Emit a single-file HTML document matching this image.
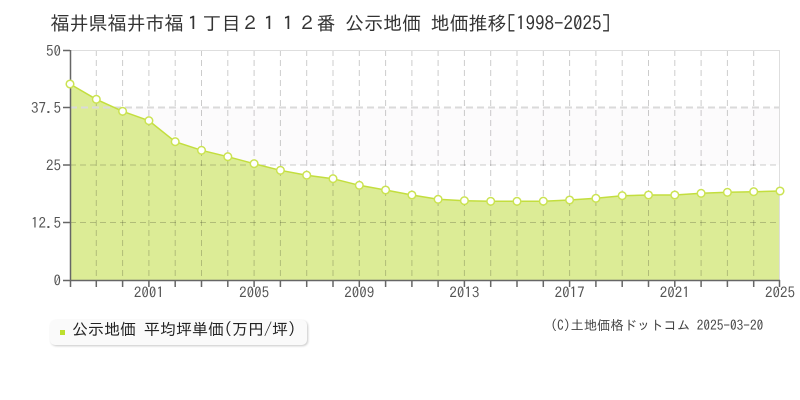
<!DOCTYPE html>
<html><head><meta charset="utf-8"><style>
html,body{margin:0;padding:0;background:#fff;}
body{width:800px;height:400px;position:relative;overflow:hidden;font-family:"IPAGothic","Liberation Sans","Noto Sans CJK JP",sans-serif;}
.t{position:absolute;white-space:nowrap;}
</style></head><body>
<svg width="800" height="400" style="position:absolute;left:0;top:0" xmlns="http://www.w3.org/2000/svg">
<rect x="70" y="107.5" width="710" height="57.5" fill="#fcfbfc"/>
<polygon fill="#dcec96" points="70,280 70,84 96.3,99.3 122.6,111.3 148.9,120.7 175.2,141.7 201.5,150.3 227.8,156.7 254.1,163.7 280.4,170.3 306.7,175.2 333,178.7 359.3,185.3 385.6,190 411.9,195 438.1,199.3 464.4,200.7 490.7,201.3 517,201.3 543.3,201.2 569.6,200 595.9,198.3 622.2,195.7 648.5,195 674.8,195 701.1,193.3 727.4,192.3 753.7,191.7 780,191 780,280"/>
<g stroke="rgba(0,0,0,0.2)" stroke-width="1" stroke-dasharray="6,4" fill="none">
<path d="M96.3,50V280M122.6,50V280M148.9,50V280M175.2,50V280M201.5,50V280M227.8,50V280M254.1,50V280M280.4,50V280M306.7,50V280M333,50V280M359.3,50V280M385.6,50V280M411.9,50V280M438.1,50V280M464.4,50V280M490.7,50V280M517,50V280M543.3,50V280M569.6,50V280M595.9,50V280M622.2,50V280M648.5,50V280M674.8,50V280M701.1,50V280M727.4,50V280M753.7,50V280"/>
<path d="M70,165H780M70,222.5H780"/>
</g>
<path d="M70,107.5H780" stroke="#dadada" stroke-width="2" stroke-dasharray="7,4" fill="none"/>
<path d="M70,50.5H780M779.5,50V280" stroke="#dedede" stroke-width="1" fill="none"/>
<polyline fill="none" stroke="#c3de3e" stroke-width="1.5" points="70,84 96.3,99.3 122.6,111.3 148.9,120.7 175.2,141.7 201.5,150.3 227.8,156.7 254.1,163.7 280.4,170.3 306.7,175.2 333,178.7 359.3,185.3 385.6,190 411.9,195 438.1,199.3 464.4,200.7 490.7,201.3 517,201.3 543.3,201.2 569.6,200 595.9,198.3 622.2,195.7 648.5,195 674.8,195 701.1,193.3 727.4,192.3 753.7,191.7 780,191"/>
<g stroke="#666" stroke-width="1.5" fill="none">
<path d="M70.5,50V280.5H780"/>
<path d="M63,50.5H70M63,107.5H70M63,165H70M63,222.5H70M63,280.5H70"/>
<path d="M70.5,280V287M96.3,280V287M122.6,280V287M148.9,280V287M175.2,280V287M201.5,280V287M227.8,280V287M254.1,280V287M280.4,280V287M306.7,280V287M333,280V287M359.3,280V287M385.6,280V287M411.9,280V287M438.1,280V287M464.4,280V287M490.7,280V287M517,280V287M543.3,280V287M569.6,280V287M595.9,280V287M622.2,280V287M648.5,280V287M674.8,280V287M701.1,280V287M727.4,280V287M753.7,280V287M779.5,280V287"/>
</g>
<g fill="#fff" stroke="#cbe352" stroke-width="1.5">
<circle cx="70" cy="84" r="3.8"/><circle cx="96.3" cy="99.3" r="3.8"/><circle cx="122.6" cy="111.3" r="3.8"/><circle cx="148.9" cy="120.7" r="3.8"/><circle cx="175.2" cy="141.7" r="3.8"/><circle cx="201.5" cy="150.3" r="3.8"/><circle cx="227.8" cy="156.7" r="3.8"/><circle cx="254.1" cy="163.7" r="3.8"/><circle cx="280.4" cy="170.3" r="3.8"/><circle cx="306.7" cy="175.2" r="3.8"/><circle cx="333" cy="178.7" r="3.8"/><circle cx="359.3" cy="185.3" r="3.8"/><circle cx="385.6" cy="190" r="3.8"/><circle cx="411.9" cy="195" r="3.8"/><circle cx="438.1" cy="199.3" r="3.8"/><circle cx="464.4" cy="200.7" r="3.8"/><circle cx="490.7" cy="201.3" r="3.8"/><circle cx="517" cy="201.3" r="3.8"/><circle cx="543.3" cy="201.2" r="3.8"/><circle cx="569.6" cy="200" r="3.8"/><circle cx="595.9" cy="198.3" r="3.8"/><circle cx="622.2" cy="195.7" r="3.8"/><circle cx="648.5" cy="195" r="3.8"/><circle cx="674.8" cy="195" r="3.8"/><circle cx="701.1" cy="193.3" r="3.8"/><circle cx="727.4" cy="192.3" r="3.8"/><circle cx="753.7" cy="191.7" r="3.8"/><circle cx="780" cy="191" r="3.8"/>
</g>
<g font-family="IPAGothic, 'Liberation Sans', sans-serif" font-size="15" fill="#555" text-anchor="end">
<text x="61" y="56">50</text>
<text x="61" y="113">37.5</text>
<text x="61" y="170.5">25</text>
<text x="61" y="228">12.5</text>
<text x="61" y="285.5">0</text>
</g>
<g font-family="IPAGothic, 'Liberation Sans', sans-serif" font-size="15" fill="#555" text-anchor="middle">
<text x="148.9" y="297.5">2001</text>
<text x="254.1" y="297.5">2005</text>
<text x="359.3" y="297.5">2009</text>
<text x="464.4" y="297.5">2013</text>
<text x="569.6" y="297.5">2017</text>
<text x="674.8" y="297.5">2021</text>
<text x="780" y="297.5">2025</text>
</g>
</svg>
<div class="t" style="left:50.5px;top:14px;font-size:19px;line-height:19px;color:#333;">福井県福井市福１丁目２１１２番 公示地価 地価推移[1998-2025]</div>
<div style="position:absolute;left:50px;top:320px;width:257px;height:25px;background:#fafafa;border-radius:5px;box-shadow:1px 1px 2px rgba(0,0,0,0.22);"></div>
<div style="position:absolute;left:60px;top:329.5px;width:5px;height:5px;background:#bddf2e;"></div>
<div class="t" style="left:72px;top:321px;font-size:16px;line-height:16px;color:#222;">公示地価 平均坪単価(万円/坪)</div>
<div class="t" style="left:550.5px;top:318.5px;font-size:13.3px;line-height:13.3px;color:#444;">(C)土地価格ドットコム 2025-03-20</div>
</body></html>
